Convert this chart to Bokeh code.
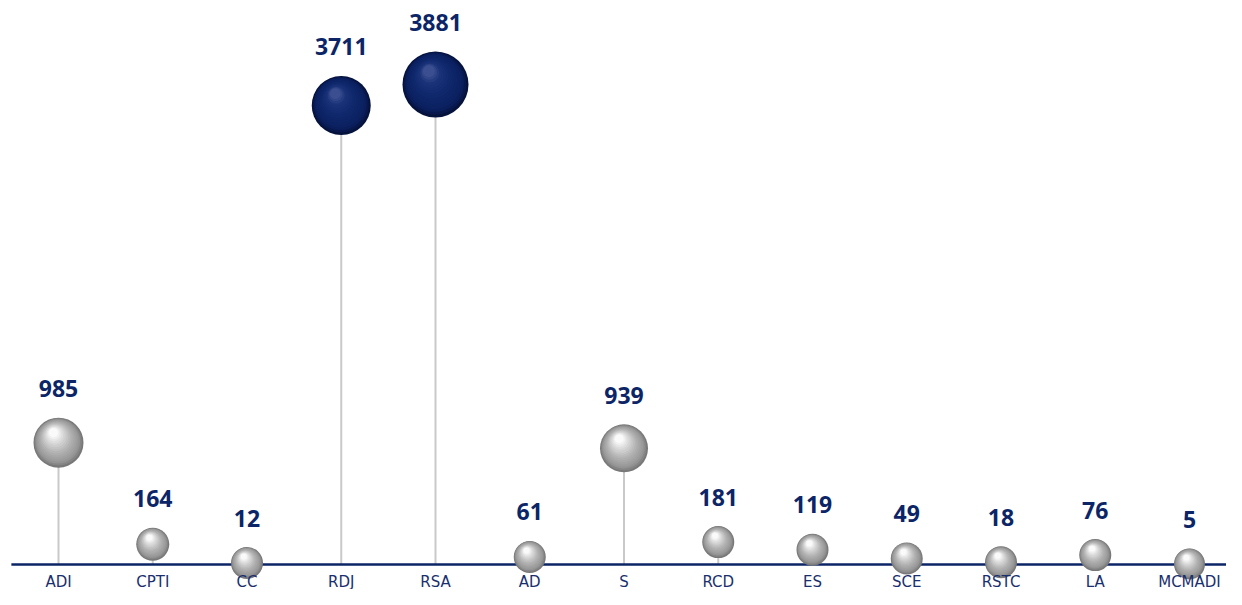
import numpy as np
from bokeh.plotting import figure
from bokeh.models import Range1d, ColumnDataSource
from bokeh.core.properties import value
from bokeh.embed import file_html
from bokeh.resources import INLINE

# ---- data ----
categories = ["ADI", "CPTI", "CC", "RDJ", "RSA", "AD", "S", "RCD", "ES", "SCE", "RSTC", "LA", "MCMADI"]
values = [985, 164, 12, 3711, 3881, 61, 939, 181, 119, 49, 18, 76, 5]
bubble_size = [50, 33, 32, 59, 66, 32, 48, 32, 32, 32, 32, 32, 31]
highlighted = ["RDJ", "RSA"]

# ---- geometry / scales ----
W, H = 1226, 589
px_per_x = 94.25
x_start = -58 / px_per_x
x_end = x_start + W / px_per_x
px_per_y = 0.1237
base_px = 564
y_end = base_px / px_per_y
y_start = -(H - base_px) / px_per_y

NAVY = "#0b2566"

p = figure(width=W, height=H, output_backend="svg", toolbar_location=None,
           x_range=Range1d(x_start, x_end), y_range=Range1d(y_start, y_end),
           min_border=0, min_border_left=0, min_border_right=0,
           min_border_top=0, min_border_bottom=0)
p.axis.visible = False
p.grid.visible = False
p.outline_line_color = None
p.background_fill_color = "white"
p.border_fill_color = "white"

xs = np.arange(len(categories), dtype=float)
vals = np.array(values, dtype=float)
sizes = np.array(bubble_size, dtype=float)
is_hi = np.array([c in highlighted for c in categories])

# stems
p.segment(x0=xs, y0=np.zeros_like(vals), x1=xs, y1=vals,
          line_color="#c9c9c9", line_width=2)

# baseline
p.line(x=[-0.5, x_end], y=[0, 0], line_color=NAVY, line_width=2.5)

# spheres: layered circles for shading
def lerp_hex(stops, t):
    for (t0, c0), (t1, c1) in zip(stops[:-1], stops[1:]):
        if t <= t1:
            f = 0 if t1 == t0 else (t - t0) / (t1 - t0)
            c = [int(round(a + (b - a) * f)) for a, b in zip(c0, c1)]
            return "#%02x%02x%02x" % tuple(c)
    return "#%02x%02x%02x" % stops[-1][1]

gray_stops = [(0.0, (120, 120, 120)), (0.15, (150, 150, 150)), (0.45, (178, 178, 178)),
              (0.75, (215, 215, 215)), (1.0, (250, 250, 250))]
navy_stops = [(0.0, (5, 18, 60)), (0.15, (11, 32, 95)), (0.5, (15, 40, 108)),
              (0.8, (26, 50, 120)), (1.0, (58, 78, 144))]

K = 16
lx, ly, ls, lc = [], [], [], []
for k in range(K):
    t = k / (K - 1)
    for i in range(len(categories)):
        d = sizes[i]
        size = d * (1 - 0.82 * t)
        dx_px = -0.10 * d * t
        dy_px = -0.20 * d * t
        lx.append(xs[i] + dx_px / px_per_x)
        ly.append(vals[i] - dy_px / px_per_y)
        ls.append(size)
        lc.append(lerp_hex(navy_stops if is_hi[i] else gray_stops, t))

src = ColumnDataSource(dict(x=lx, y=ly, size=ls, color=lc))
p.scatter(x="x", y="y", size="size", fill_color="color", line_color=None, source=src)

# value labels
lab_src = ColumnDataSource(dict(x=xs, y=vals, text=[str(v) for v in values],
                                off=-(sizes / 2 + 29)))
p.text(x="x", y="y", text="text", y_offset="off", source=lab_src,
       text_font=value("Open Sans"), text_font_style="bold", text_font_size="23px",
       text_color=NAVY, text_align="center", text_baseline="alphabetic")

# category labels
cat_src = ColumnDataSource(dict(x=xs, y=np.zeros_like(vals), text=categories))
p.text(x="x", y="y", text="text", y_offset=17, source=cat_src,
       text_font=value("DejaVu Sans"), text_font_size="15px",
       text_color="#1a2f6e", text_align="center", text_baseline="alphabetic")

open("out.html", "w").write(file_html(p, INLINE))
